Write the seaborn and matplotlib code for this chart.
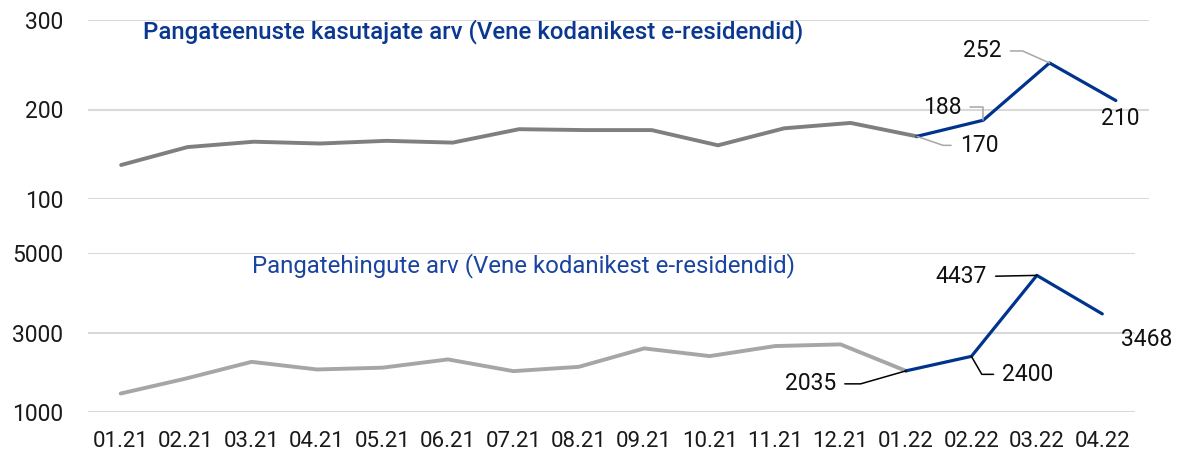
import pandas as pd
import matplotlib.pyplot as plt
import seaborn as sns

# months on the x axis
months = ['01.21', '02.21', '03.21', '04.21', '05.21', '06.21', '07.21', '08.21',
          '09.21', '10.21', '11.21', '12.21', '01.22', '02.22', '03.22', '04.22']

# bank service users (Russian citizen e-residents)
users = [138, 158, 164, 162, 165, 163, 178, 177, 177, 160, 179, 185, 170, 188, 252, 210]
# bank transactions (Russian citizen e-residents)
transactions = [1465, 1843, 2262, 2070, 2115, 2323, 2028, 2136, 2600, 2406, 2659, 2701,
                2035, 2400, 4437, 3468]

split = 12  # from 01.22 the line turns blue

sns.set_theme(style='white')
plt.rcParams['font.family'] = ['Roboto', 'DejaVu Sans']

BLUE = '#00338D'
GRID = '#D9D9D9'

fig = plt.figure(figsize=(11.81, 4.57), dpi=100)
ax1 = fig.add_axes([88/1181, 1-199/457, 1061/1181, 179/457])
ax2 = fig.add_axes([88/1181, 1-412/457, 1047/1181, 159/457])

def draw(ax, vals, grey, lw_grey):
    df = pd.DataFrame({'x': range(len(vals)), 'y': vals})
    sns.lineplot(data=df.iloc[:split+1], x='x', y='y', ax=ax, color=grey, lw=lw_grey)
    sns.lineplot(data=df.iloc[split:], x='x', y='y', ax=ax, color=BLUE, lw=2.3)
    ax.set_xlim(-0.5, len(vals) - 0.5)
    ax.set_xlabel('')
    ax.set_ylabel('')
    for s in ax.spines.values():
        s.set_visible(False)
    ax.yaxis.grid(True, color=GRID, lw=1.5)
    ax.xaxis.grid(False)
    ax.tick_params(axis='y', length=0, pad=18, labelsize=16.5, labelcolor='#1a1a1a')
    ax.tick_params(axis='x', length=0)

draw(ax1, users, '#7F7F7F', 2.8)
ax1.set_ylim(100, 300)
ax1.set_yticks([100, 200, 300])
ax1.set_xticks([])

draw(ax2, transactions, '#A6A6A6', 2.8)
ax2.set_ylim(1000, 5000)
ax2.set_yticks([1000, 3000, 5000])
ax2.set_xticks(range(len(months)))
ax2.set_xticklabels(months)
ax2.tick_params(axis='x', pad=14, labelsize=16, labelcolor='#1a1a1a')

fig.text(143/1181, 1-32/457, 'Pangateenuste kasutajate arv (Vene kodanikest e-residendid)',
         color='#0A3790', fontsize=17.3, fontweight='medium', va='center', ha='left')
fig.text(252/1181, 1-266/457, 'Pangatehingute arv (Vene kodanikest e-residendid)',
         color='#1A44A0', fontsize=17.3, va='center', ha='left')

def label(ax, i, vals, dx, dy, ha, lcolor=None, conn='arc3', relpos=(0.5, 0.5)):
    kw = {}
    if lcolor is not None:
        kw['arrowprops'] = dict(arrowstyle='-', color=lcolor, lw=1.1, shrinkA=4, shrinkB=0,
                                connectionstyle=conn, relpos=relpos)
    ax.annotate(str(vals[i]), xy=(i, vals[i]), xytext=(dx*0.72, dy*0.72),
                textcoords='offset points', ha=ha, va='center', fontsize=16.5,
                color='#111111', annotation_clip=False, **kw)

# top panel labels
label(ax1, 12, users, 43, -9, 'left', '#A6A6A6', 'angle,angleA=0,angleB=-19,rad=0', (0, 0.5))
label(ax1, 13, users, -22, 13, 'right', '#A6A6A6', 'angle,angleA=0,angleB=90,rad=0', (1, 0.5))
label(ax1, 14, users, -48, 12, 'right', '#A6A6A6', 'angle,angleA=0,angleB=-24,rad=0', (1, 0.5))
label(ax1, 15, users, 4, -18, 'center')

# bottom panel labels
label(ax2, 12, transactions, -70, -13, 'right', 'black', 'angle,angleA=0,angleB=16,rad=0', (1, 0.5))
label(ax2, 13, transactions, 31, -18, 'left', 'black', 'angle,angleA=0,angleB=-60,rad=0', (0, 0.5))
label(ax2, 14, transactions, -50, -1, 'right', 'black', 'arc3', (1, 0.5))
label(ax2, 15, transactions, 19, -26, 'left')

fig.savefig('out.png', dpi=100)
